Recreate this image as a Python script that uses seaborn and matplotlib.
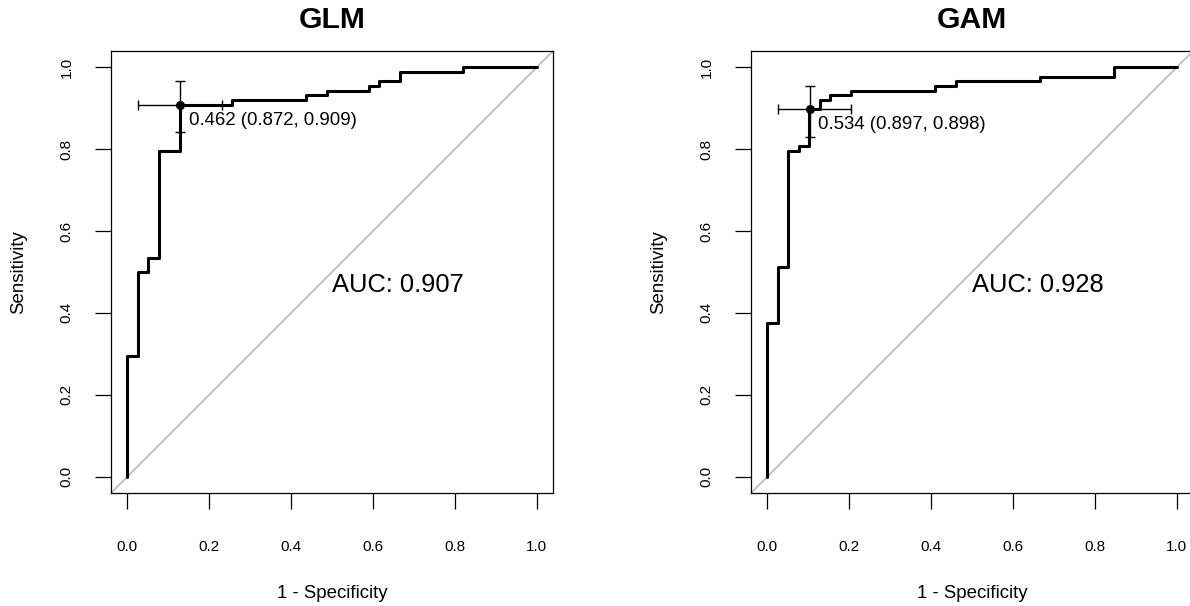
import numpy as np
import pandas as pd
import matplotlib
matplotlib.use("Agg")
import matplotlib.pyplot as plt
import seaborn as sns

# ---------------- data ----------------
titles = ["GLM", "GAM"]

glm_fpr = [0.0, 0.0, 0.0256, 0.0256, 0.0513, 0.0513, 0.0769, 0.0769, 0.1282, 0.1282,
           0.2564, 0.2564, 0.4359, 0.4359, 0.4872, 0.4872, 0.5897, 0.5897, 0.6154, 0.6154,
           0.6667, 0.6667, 0.8205, 0.8205, 1.0]
glm_tpr = [0.0, 0.2955, 0.2955, 0.5, 0.5, 0.5341, 0.5341, 0.7955, 0.7955, 0.9091,
           0.9091, 0.9205, 0.9205, 0.9318, 0.9318, 0.9432, 0.9432, 0.9545, 0.9545, 0.9659,
           0.9659, 0.9886, 0.9886, 1.0, 1.0]

gam_fpr = [0.0, 0.0, 0.0256, 0.0256, 0.0513, 0.0513, 0.0769, 0.0769, 0.1026, 0.1026,
           0.1282, 0.1282, 0.1538, 0.1538, 0.2051, 0.2051, 0.4103, 0.4103, 0.4615, 0.4615,
           0.6667, 0.6667, 0.8462, 0.8462, 1.0]
gam_tpr = [0.0, 0.375, 0.375, 0.5114, 0.5114, 0.7955, 0.7955, 0.8068, 0.8068, 0.8977,
           0.8977, 0.9205, 0.9205, 0.9318, 0.9318, 0.9432, 0.9432, 0.9545, 0.9545, 0.9659,
           0.9659, 0.9773, 0.9773, 1.0, 1.0]

auc_values = [0.907, 0.928]
thresholds = [0.462, 0.534]
best_spec = [0.872, 0.897]
best_sens = [0.909, 0.898]
spec_ci_low = [0.769, 0.795]
spec_ci_high = [0.974, 0.974]
sens_ci_low = [0.841, 0.830]
sens_ci_high = [0.966, 0.955]

tick_values = [0.0, 0.2, 0.4, 0.6, 0.8, 1.0]
tick_labels = ["0.0", "0.2", "0.4", "0.6", "0.8", "1.0"]

# ---------------- style ----------------
sns.set_style("white")
plt.rcParams["font.family"] = ["Liberation Sans", "DejaVu Sans"]

fig = plt.figure(figsize=(11.9, 6.06), dpi=100)
W, H = 1190.0, 606.0
box = 442.0
positions = [(111 / W, (H - 493) / H, box / W, box / H),
             (751 / W, (H - 493) / H, box / W, box / H)]

curves = [(glm_fpr, glm_tpr), (gam_fpr, gam_tpr)]

for i in range(2):
    ax = fig.add_axes(positions[i])
    fpr, tpr = curves[i]
    df = pd.DataFrame({"fpr": fpr, "tpr": tpr})

    ax.axline((0, 0), slope=1, color="#B4B4B4", lw=1.1, zorder=1)
    sns.lineplot(data=df, x="fpr", y="tpr", sort=False, estimator=None,
                 color="black", lw=2.2, ax=ax, zorder=3)

    px = 1 - best_spec[i]
    py = best_sens[i]
    xerr = [[px - (1 - spec_ci_high[i])], [(1 - spec_ci_low[i]) - px]]
    yerr = [[py - sens_ci_low[i]], [sens_ci_high[i] - py]]
    ax.errorbar([px], [py], xerr=xerr, yerr=yerr, fmt="o", color="black",
                ms=5.5, elinewidth=1.0, capsize=3.6, capthick=1.0, zorder=4)

    ax.annotate(f"{thresholds[i]:.3f} ({best_spec[i]:.3f}, {best_sens[i]:.3f})",
                xy=(px, py), xytext=(6.3, -14.4), textcoords="offset points",
                ha="left", va="baseline", fontsize=13.4, color="black", zorder=5)

    ax.text(0.5, 0.452, f"AUC: {auc_values[i]:.3f}", ha="left", va="baseline",
            fontsize=18.4, color="black")

    ax.set_xlim(-0.04, 1.04)
    ax.set_ylim(-0.04, 1.04)
    ax.set_xticks(tick_values)
    ax.set_xticklabels(tick_labels)
    ax.set_yticks(tick_values)
    ax.set_yticklabels(tick_labels, rotation=90, va="center")
    ax.tick_params(axis="both", which="major", direction="out", length=11.3,
                   width=0.9, color="black", labelsize=11, labelcolor="black",
                   bottom=True, left=True, top=False, right=False)
    ax.tick_params(axis="x", pad=22.5)
    ax.tick_params(axis="y", pad=15.5)
    for s in ax.spines.values():
        s.set_visible(True)
        s.set_color("black")
        s.set_linewidth(0.9)

    ax.set_xlabel("1 - Specificity", fontsize=13.4, color="black")
    ax.set_ylabel("Sensitivity", fontsize=13.4, color="black")
    ax.xaxis.set_label_coords(0.5, (493 - 593) / box)
    ax.xaxis.label.set_va("center")
    ax.yaxis.set_label_coords((18.3 - 111) / box, 0.5)
    ax.yaxis.label.set_va("center")

    ax.set_title(titles[i], fontsize=21.7, fontweight="bold", pad=16.3, color="black")

fig.savefig("out.png", dpi=100)
